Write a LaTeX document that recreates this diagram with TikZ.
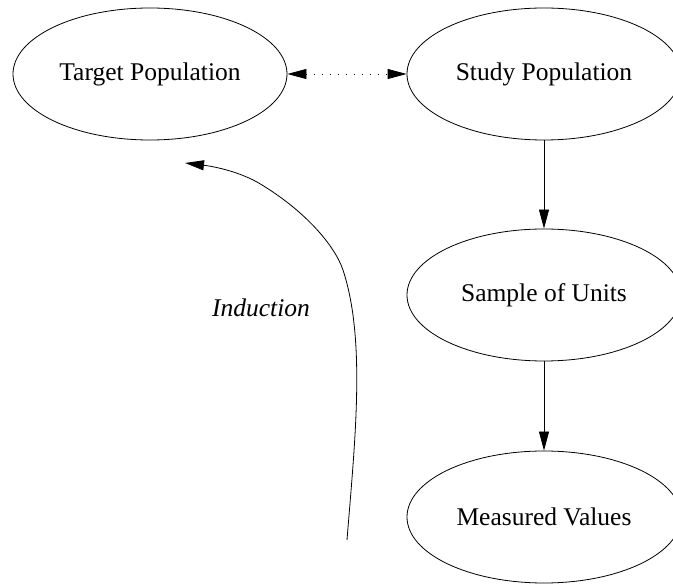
\documentclass[tikz,border=0pt]{standalone}
\usepackage{fontspec}
\setmainfont{Liberation Serif}
\usepackage{tikz}
\usetikzlibrary{shapes.geometric,arrows.meta,calc,positioning}

\begin{document}
\begin{tikzpicture}[x=1pt,y=-1pt, line width = 0.8pt]
	\tikzstyle{every node} = [ellipse, draw = black, minimum width = 274pt, minimum height = 132pt, inner sep = 0pt, font = \fontsize{25.5}{30}\selectfont]
	\tikzstyle{tip} = [-{Triangle[length=19pt,width=10pt]}]
\useasboundingbox (0,0) rectangle (673,585);
\node (tp) at (150, 74) {Target Population};
\node (sp) at (544, 74) {Study Population};
\node (su) at (544, 295) {Sample of Units};
\node (mv) at (544, 517) {Measured Values};
	\path[draw][tip] (sp) -- (su);
	\path[draw][tip] (su) -- (mv);
	\path[draw][dash pattern = on 1.2pt off 6.8pt, {Triangle[length=19pt,width=10pt]}-{Triangle[length=19pt,width=10pt]}] (tp) -- (sp);
\coordinate (start) at (347, 540);
\coordinate (goal) at (185, 163);
	\path[draw][tip] (start) .. controls (355, 440) and (366, 340) .. (343, 270)
	    .. controls (335, 246) and (305, 210) .. (257, 182)
	    .. controls (235, 170) and (210, 166) .. (goal);
\node[draw = none, minimum width = 0pt, minimum height = 0pt, font = \fontsize{25.5}{30}\selectfont\itshape] (ind) at (261, 308) {Induction};
	\end{tikzpicture}
\end{document}
